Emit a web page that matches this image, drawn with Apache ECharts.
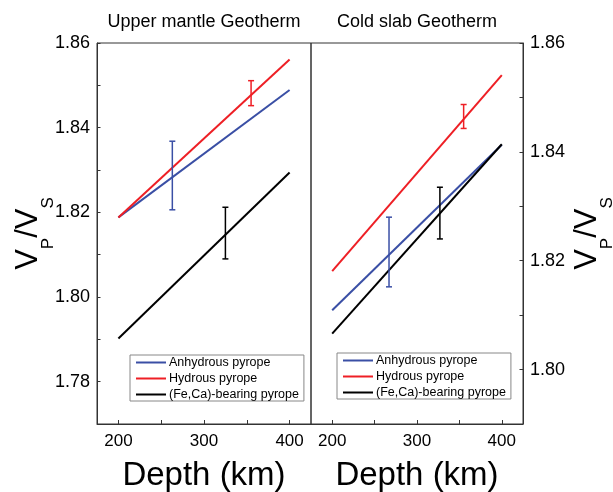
<!DOCTYPE html>
<html>
<head>
<meta charset="UTF-8">
<title>Vp/Vs geotherms</title>
<script src="https://cdn.jsdelivr.net/npm/echarts@6/dist/echarts.min.js"></script>
<style>
  html, body { margin: 0; padding: 0; background: #fff; }
  #chart { width: 613px; height: 492px; }
</style>
</head>
<body>
<div id="chart"></div>
<script>
// end points of each line (depth in km)
const depths = [200, 400];

// upper mantle geotherm
const umAnhydrous = [1.8188, 1.8489];
const umHydrous = [1.8188, 1.8561];
const umFeCa = [1.7902, 1.8294];
// error bars: [depth, low, high]
const umAnhydrousErr = [[263, 1.8206, 1.8368]];
const umHydrousErr = [[355, 1.8452, 1.8511]];
const umFeCaErr = [[325, 1.8090, 1.8212]];

// cold slab geotherm
const csAnhydrous = [1.8109, 1.8413];
const csHydrous = [1.8181, 1.8541];
const csFeCa = [1.8066, 1.8414];
const csAnhydrousErr = [[267, 1.8152, 1.8280]];
const csHydrousErr = [[355, 1.8443, 1.8487]];
const csFeCaErr = [[327, 1.8240, 1.8335]];

// ticks and labels
const xTicks = [200, 250, 300, 350, 400];
const xLabels = [200, 300, 400];
const yTicksLeft = [1.77, 1.78, 1.79, 1.80, 1.81, 1.82, 1.83, 1.84, 1.85, 1.86];
const yLabelsLeft = [1.78, 1.80, 1.82, 1.84, 1.86];
const yTicksRight = [1.79, 1.80, 1.81, 1.82, 1.83, 1.84, 1.85, 1.86];
const yLabelsRight = [1.80, 1.82, 1.84, 1.86];

const names = ['Anhydrous pyrope', 'Hydrous pyrope', '(Fe,Ca)-bearing pyrope'];
const colors = ['#3a4fa5', '#ee1f25', '#000000'];
const FONT = 'Liberation Sans, Arial, sans-serif';
const AXIS = '#333';

const chart = echarts.init(document.getElementById('chart'));

function toPts(vals) {
  return depths.map((d, i) => [d, vals[i]]);
}

function errorBar(params, api) {
  const x = api.value(0);
  const lo = api.coord([x, api.value(1)]);
  const hi = api.coord([x, api.value(2)]);
  const c = api.visual('color');
  const w = 3;
  const st = { stroke: c, lineWidth: 1.5 };
  return {
    type: 'group',
    children: [
      { type: 'line', shape: { x1: lo[0], y1: lo[1], x2: hi[0], y2: hi[1] }, style: st },
      { type: 'line', shape: { x1: lo[0] - w, y1: lo[1], x2: lo[0] + w, y2: lo[1] }, style: st },
      { type: 'line', shape: { x1: hi[0] - w, y1: hi[1], x2: hi[0] + w, y2: hi[1] }, style: st }
    ]
  };
}

function lineSeries(name, vals, color, idx) {
  return {
    name: name,
    type: 'line',
    xAxisIndex: idx,
    yAxisIndex: idx,
    data: toPts(vals),
    symbol: 'none',
    lineStyle: { color: color, width: 2 },
    itemStyle: { color: color },
    silent: true,
    z: 3
  };
}

function errSeries(data, color, idx) {
  return {
    type: 'custom',
    xAxisIndex: idx,
    yAxisIndex: idx,
    data: data,
    itemStyle: { color: color },
    encode: { x: 0, y: [1, 2] },
    renderItem: errorBar,
    silent: true,
    z: 4
  };
}

function xAxisOpt(idx) {
  return {
    gridIndex: idx,
    type: 'value',
    min: 175,
    max: 425,
    name: 'Depth (km)',
    nameLocation: 'middle',
    nameGap: 35,
    nameMoveOverlap: false,
    nameTextStyle: { fontSize: 33, fontFamily: FONT, color: '#000' },
    axisLine: { lineStyle: { color: AXIS, width: 1 } },
    axisTick: { inside: true, length: 4, customValues: xTicks, lineStyle: { color: AXIS } },
    axisLabel: { customValues: xLabels, fontSize: 17, fontFamily: FONT, color: '#000', margin: 9 },
    splitLine: { show: false }
  };
}

const vpvsName = '{v|V}{s|P}{v|/V}{s|S}';
const vpvsRich = {
  v: { fontSize: 31, lineHeight: 31, fontFamily: FONT, color: '#000', verticalAlign: 'top' },
  s: { fontSize: 17, lineHeight: 17, fontFamily: FONT, color: '#000', verticalAlign: 'top', padding: [27, 0, 0, 0] }
};

function yAxisOpt(idx, pos, min, ticks, labels, gap) {
  return {
    gridIndex: idx,
    type: 'value',
    position: pos,
    min: min,
    max: 1.86,
    name: vpvsName,
    nameLocation: 'middle',
    nameRotate: 90,
    nameGap: gap,
    nameMoveOverlap: false,
    nameTextStyle: { rich: vpvsRich },
    axisLine: { show: true, lineStyle: { color: AXIS, width: 1 } },
    axisTick: { inside: true, length: 3.5, customValues: ticks, lineStyle: { color: AXIS } },
    axisLabel: {
      customValues: labels,
      fontSize: 18,
      fontFamily: FONT,
      color: '#000',
      margin: 7,
      formatter: v => v.toFixed(2)
    },
    splitLine: { show: false }
  };
}

function legendOpt(left, top) {
  return {
    orient: 'vertical',
    left: left,
    top: top,
    data: names,
    icon: 'rect',
    padding: [1, 5, 0, 6],
    itemWidth: 30,
    itemHeight: 2,
    itemGap: 3,
    borderColor: '#888',
    borderWidth: 1,
    selectedMode: false,
    textStyle: { fontSize: 12.5, lineHeight: 12, fontFamily: FONT, color: '#000', padding: [0, 0, 0, -2] }
  };
}

const option = {
  animation: false,
  backgroundColor: '#fff',
  grid: [
    { left: 97, top: 43, width: 214, height: 381, show: true, borderColor: AXIS, borderWidth: 1, outerBoundsMode: 'none', containLabel: false },
    { left: 311, top: 43, width: 212, height: 381, show: true, borderColor: AXIS, borderWidth: 1, outerBoundsMode: 'none', containLabel: false }
  ],
  xAxis: [xAxisOpt(0), xAxisOpt(1)],
  yAxis: [
    yAxisOpt(0, 'left', 1.77, yTicksLeft, yLabelsLeft, 53),
    yAxisOpt(1, 'right', 1.79, yTicksRight, yLabelsRight, 49)
  ],
  legend: [legendOpt(130, 355), legendOpt(337, 353)],
  graphic: [
    { type: 'text', x: 204, y: 22, style: { text: 'Upper mantle Geotherm', font: '18px ' + FONT, fill: '#000', textAlign: 'center', textVerticalAlign: 'middle' } },
    { type: 'text', x: 417, y: 22, style: { text: 'Cold slab Geotherm', font: '18px ' + FONT, fill: '#000', textAlign: 'center', textVerticalAlign: 'middle' } }
  ],
  series: [
    lineSeries(names[0], umAnhydrous, colors[0], 0),
    lineSeries(names[1], umHydrous, colors[1], 0),
    lineSeries(names[2], umFeCa, colors[2], 0),
    errSeries(umAnhydrousErr, colors[0], 0),
    errSeries(umHydrousErr, colors[1], 0),
    errSeries(umFeCaErr, colors[2], 0),
    lineSeries(names[0], csAnhydrous, colors[0], 1),
    lineSeries(names[1], csHydrous, colors[1], 1),
    lineSeries(names[2], csFeCa, colors[2], 1),
    errSeries(csAnhydrousErr, colors[0], 1),
    errSeries(csHydrousErr, colors[1], 1),
    errSeries(csFeCaErr, colors[2], 1)
  ]
};

chart.setOption(option);
</script>
</body>
</html>
